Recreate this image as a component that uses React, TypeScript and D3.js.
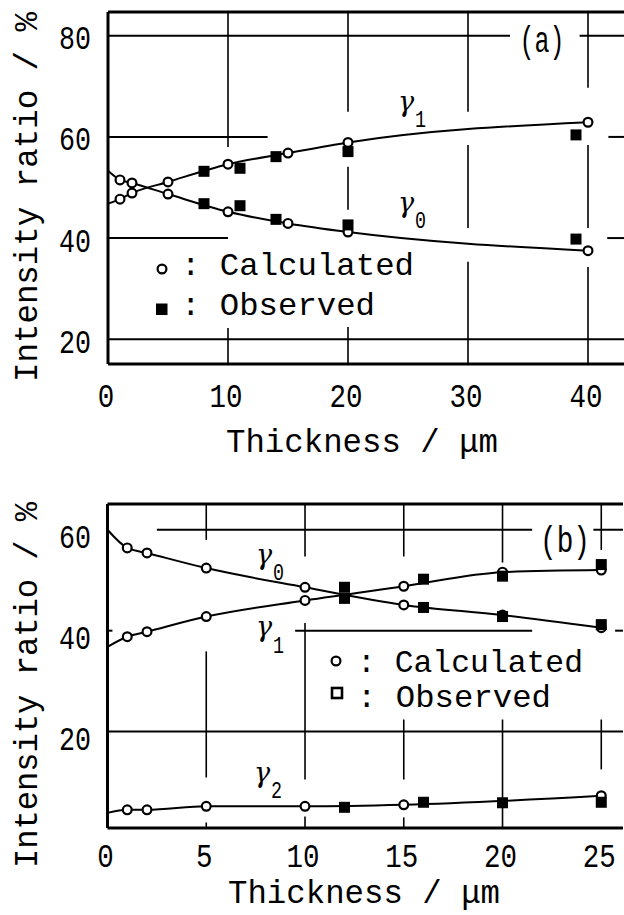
import * as d3 from "d3";

// ---------- panel (a) ----------
const aXTicks = [0, 10, 20, 30, 40];
const aYTicks = [20, 40, 60, 80];
const aCalcX = [1, 2, 5, 10, 15, 20, 40];
const aCalcR1 = [47.7, 48.9, 51.1, 54.6, 56.8, 58.9, 62.9];
const aCalcR0 = [51.5, 50.9, 48.7, 45.2, 42.9, 41.2, 37.5];
const aObsX = [8, 11, 14, 20, 39];
const aObsR1 = [53.2, 53.8, 56.1, 57.1, 60.4];
const aObsR0 = [46.8, 46.4, 43.7, 42.6, 39.8];
// curves start at the axis (thickness 0)
const aStartR1 = 46.8;
const aStartR0 = 53.3;
// broken grid lines: [value, from, to] in data units
const aHGrid: [number, number, number][] = [
  [80, 0, 33.5], [80, 39.3, 43], [60, 0, 13.3], [60, 41.7, 43],
  [40, 0, 10], [40, 41.6, 43], [20, 0, 43],
];
const aVGrid: [number, number, number][] = [
  [10, 58.0, 84.7], [10, 15.1, 22.2],
  [20, 65.0, 84.7], [20, 45.6, 54.1], [20, 15.1, 22.4],
  [30, 65.0, 84.7], [30, 42.0, 58.4], [30, 15.1, 35.3],
  [40, 69.7, 84.7], [40, 42.0, 58.4], [40, 15.1, 34.3],
];

// ---------- panel (b) ----------
const bXTicks = [0, 5, 10, 15, 20, 25];
const bYTicks = [20, 40, 60];
const bCalcX = [1, 2, 5, 10, 15, 20, 25];
const bCalcR0 = [56.4, 55.4, 52.4, 48.6, 45.1, 43.1, 40.6];
const bCalcR1 = [38.8, 39.8, 42.8, 46.0, 48.8, 51.6, 52.0];
const bCalcR2X = [1, 2, 5, 10, 15, 25];
const bCalcR2 = [4.5, 4.5, 5.2, 5.2, 5.5, 7.3];
const bObsX = [12, 16, 20, 25];
const bObsR0 = [46.4, 44.6, 42.8, 41.2];
const bObsR1 = [48.6, 50.2, 50.8, 53.1];
const bObsR2 = [5.0, 6.0, 5.9, 6.0];
const bStartR0 = 60.0;
const bStartR1 = 36.8;
const bStartR2 = 3.9;
const bHGrid: [number, number, number][] = [
  [60, 2.5, 21.5], [60, 24.6, 26.1], [40, 0, 0.25], [40, 9.5, 21.5],
  [40, 25.7, 26.1], [20, 0, 26.1],
];
const bVGrid: [number, number, number][] = [
  [5, 58.0, 65.1], [5, 10.9, 35.9], [5, 0.9, 2.0],
  [10, 54.7, 65.1], [10, 10.5, 41.5], [10, 0.9, 3.2],
  [15, 54.7, 65.1], [15, 10.5, 22.4], [15, 0.9, 3.0],
  [20, 53.5, 65.1], [20, 0.9, 22.4],
  [25, 56.0, 65.1], [25, 12.5, 22.4],
];

const MONO = "'Liberation Mono', 'DejaVu Sans Mono', monospace";
const SERIF = "'DejaVu Serif', serif";

type Scale = d3.ScaleLinear<number, number>;
type Series = { xs: number[]; ys: number[] };

const curve = (x: Scale, y: Scale, s: Series) =>
  d3
    .line<number>()
    .curve(d3.curveMonotoneX)
    .x((_, i) => x(s.xs[i]))
    .y((v) => y(v))(s.ys) || "";

function Panel(props: {
  x: Scale;
  y: Scale;
  xTicks: number[];
  yTicks: number[];
  hGrid: [number, number, number][];
  vGrid: [number, number, number][];
  curves: Series[];
  calc: Series[];
  obs: Series[];
  yLabelDy: number;
  xLabelY: number;
}) {
  const { x, y } = props;
  const [x0, x1] = x.domain();
  const [y0, y1] = y.domain();
  return (
    <g>
      {props.hGrid.map(([v, a, b], i) => (
        <line key={"h" + i} x1={x(a)} x2={x(b)} y1={y(v)} y2={y(v)} stroke="#000" strokeWidth={2} />
      ))}
      {props.vGrid.map(([v, a, b], i) => (
        <line key={"v" + i} x1={x(v)} x2={x(v)} y1={y(a)} y2={y(b)} stroke="#000" strokeWidth={1.6} />
      ))}
      {/* frame: left, top, bottom */}
      <line x1={x(x0)} x2={x(x0)} y1={y(y0)} y2={y(y1)} stroke="#000" strokeWidth={3} />
      <line x1={x(x0)} x2={x(x1)} y1={y(y1)} y2={y(y1)} stroke="#000" strokeWidth={3} />
      <line x1={x(x0)} x2={x(x1)} y1={y(y0)} y2={y(y0)} stroke="#000" strokeWidth={3} />

      {props.xTicks.map((t) => (
        <text key={"xt" + t} x={x(t) - 2} y={props.xLabelY} fontFamily={MONO} fontSize={34}
          textAnchor="middle" textLength={16.5 * String(t).length} lengthAdjust="spacingAndGlyphs">
          {t}
        </text>
      ))}
      {props.yTicks.map((t) => (
        <text key={"yt" + t} x={91} y={y(t) + props.yLabelDy} fontFamily={MONO} fontSize={34}
          textAnchor="end" textLength={16 * String(t).length} lengthAdjust="spacingAndGlyphs">
          {t}
        </text>
      ))}

      {props.curves.map((s, i) => (
        <path key={"c" + i} d={curve(x, y, s)} fill="none" stroke="#000" strokeWidth={2} />
      ))}
      {props.calc.map((s, i) =>
        s.xs.map((v, j) => (
          <circle key={"o" + i + "-" + j} cx={x(v)} cy={y(s.ys[j])} r={4.4}
            fill="#fff" stroke="#000" strokeWidth={2.2} />
        ))
      )}
      {props.obs.map((s, i) =>
        s.xs.map((v, j) => (
          <rect key={"s" + i + "-" + j} x={x(v) - 5.5} y={y(s.ys[j]) - 5.5} width={11} height={11} fill="#000" />
        ))
      )}
    </g>
  );
}

const ax = d3.scaleLinear().domain([0, 43]).range([108, 624]);
const ay = d3.scaleLinear().domain([15.1, 84.7]).range([364, 12]);
const bx = d3.scaleLinear().domain([0, 26.1]).range([107.5, 623]);
const by = d3.scaleLinear().domain([0.9, 65.1]).range([828, 504]);

const Gamma = ({ x, y, sub, subY }: { x: number; y: number; sub: string; subY: number }) => (
  <g>
    <text x={x} y={y} fontFamily={SERIF} fontStyle="italic" fontSize={27}>γ</text>
    <text x={x + 17} y={subY} fontFamily={MONO} fontSize={24} textLength={11} lengthAdjust="spacingAndGlyphs">{sub}</text>
  </g>
);

export default function App() {
  return (
    <svg width={624} height={915} style={{ position: "absolute", left: 0, top: 0 }}>
      <rect width={624} height={915} fill="#fff" />

      {/* ---------- (a) ---------- */}
      <Panel
        x={ax} y={ay} xTicks={aXTicks} yTicks={aYTicks} hGrid={aHGrid} vGrid={aVGrid}
        curves={[
          { xs: [0, ...aCalcX], ys: [aStartR1, ...aCalcR1] },
          { xs: [0, ...aCalcX], ys: [aStartR0, ...aCalcR0] },
        ]}
        calc={[{ xs: aCalcX, ys: aCalcR1 }, { xs: aCalcX, ys: aCalcR0 }]}
        obs={[{ xs: aObsX, ys: aObsR1 }, { xs: aObsX, ys: aObsR0 }]}
        yLabelDy={13.5} xLabelY={407}
      />
      <text x={542} y={52} fontFamily={MONO} fontSize={36} textAnchor="middle" textLength={45} lengthAdjust="spacingAndGlyphs">(a)</text>
      <Gamma x={398} y={111} sub="1" subY={127} />
      <Gamma x={398} y={212} sub="0" subY={228} />
      <circle cx={162} cy={269} r={4.4} fill="#fff" stroke="#000" strokeWidth={2.2} />
      <rect x={156} y={303.5} width={11.5} height={11.5} fill="#000" />
      <text x={181} y={275} fontFamily={MONO} fontSize={32} textLength={233} lengthAdjust="spacingAndGlyphs">: Calculated</text>
      <text x={181} y={315} fontFamily={MONO} fontSize={32} textLength={194} lengthAdjust="spacingAndGlyphs">: Observed</text>
      <text transform="translate(37,197) rotate(-90)" fontFamily={MONO} fontSize={33} textAnchor="middle"
        textLength={370} lengthAdjust="spacingAndGlyphs">Intensity ratio / %</text>
      <text x={362} y={452} fontFamily={MONO} fontSize={34} textAnchor="middle" textLength={272} lengthAdjust="spacingAndGlyphs">Thickness / μm</text>

      {/* ---------- (b) ---------- */}
      <Panel
        x={bx} y={by} xTicks={bXTicks} yTicks={bYTicks} hGrid={bHGrid} vGrid={bVGrid}
        curves={[
          { xs: [0, ...bCalcX], ys: [bStartR0, ...bCalcR0] },
          { xs: [0, ...bCalcX], ys: [bStartR1, ...bCalcR1] },
          { xs: [0, ...bCalcR2X], ys: [bStartR2, ...bCalcR2] },
        ]}
        calc={[
          { xs: bCalcX, ys: bCalcR0 },
          { xs: bCalcX, ys: bCalcR1 },
          { xs: bCalcR2X, ys: bCalcR2 },
        ]}
        obs={[
          { xs: bObsX, ys: bObsR0 },
          { xs: bObsX, ys: bObsR1 },
          { xs: bObsX, ys: bObsR2 },
        ]}
        yLabelDy={18} xLabelY={867}
      />
      <text x={565} y={552} fontFamily={MONO} fontSize={36} textAnchor="middle" textLength={50} lengthAdjust="spacingAndGlyphs">(b)</text>
      <Gamma x={256} y={564} sub="0" subY={580} />
      <Gamma x={256} y={636} sub="1" subY={653} />
      <Gamma x={254} y={782} sub="2" subY={798} />
      <circle cx={336} cy={661} r={4.4} fill="#fff" stroke="#000" strokeWidth={2.2} />
      <rect x={332} y={688} width={10} height={10} fill="#fff" stroke="#000" strokeWidth={2.6} />
      <text x={357} y={672} fontFamily={MONO} fontSize={32} textLength={226} lengthAdjust="spacingAndGlyphs">: Calculated</text>
      <text x={357} y={707} fontFamily={MONO} fontSize={32} textLength={194} lengthAdjust="spacingAndGlyphs">: Observed</text>
      <text transform="translate(37,685) rotate(-90)" fontFamily={MONO} fontSize={33} textAnchor="middle"
        textLength={366} lengthAdjust="spacingAndGlyphs">Intensity ratio / %</text>
      <text x={364} y={903} fontFamily={MONO} fontSize={34} textAnchor="middle" textLength={272} lengthAdjust="spacingAndGlyphs">Thickness / μm</text>
    </svg>
  );
}
